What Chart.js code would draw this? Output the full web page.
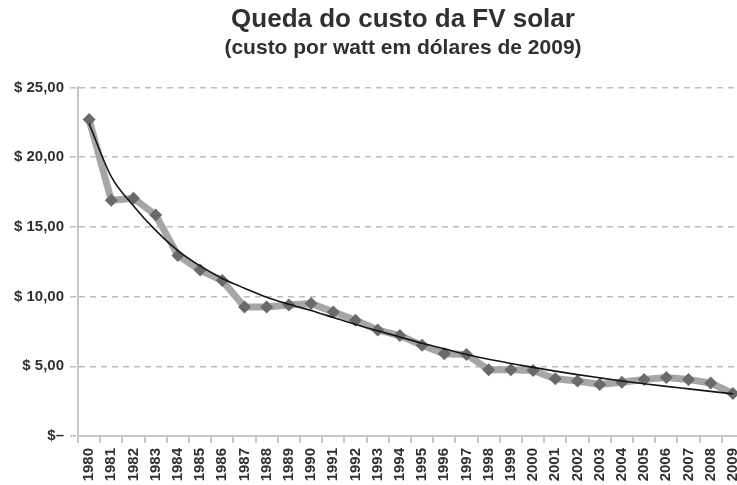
<!DOCTYPE html>
<html>
<head>
<meta charset="utf-8">
<script src="https://cdn.jsdelivr.net/npm/chart.js@4/dist/chart.umd.min.js"></script>
<style>
  html, body { margin: 0; padding: 0; background: #fff; overflow: hidden; width: 737px; height: 485px; }
  canvas { display: block; }
</style>
</head>
<body>
<canvas id="c" width="806" height="485"></canvas>
<script>
const categories = ["1980","1981","1982","1983","1984","1985","1986","1987","1988","1989",
  "1990","1991","1992","1993","1994","1995","1996","1997","1998","1999",
  "2000","2001","2002","2003","2004","2005","2006","2007","2008","2009"];
const custo = [22.7, 16.9, 17.05, 15.85, 12.95, 11.9, 11.15, 9.25, 9.25, 9.4,
  9.5, 8.9, 8.3, 7.6, 7.2, 6.5, 5.9, 5.85, 4.75, 4.75,
  4.7, 4.1, 3.95, 3.7, 3.85, 4.05, 4.2, 4.05, 3.8, 3.05];
const tendencia = [22.4, 18.6, 16.5, 14.75, 13.3, 12.2, 11.3, 10.6, 9.95, 9.45,
  9.0, 8.5, 8.0, 7.55, 7.1, 6.65, 6.25, 5.85, 5.5, 5.2,
  4.92, 4.65, 4.4, 4.17, 3.95, 3.75, 3.56, 3.38, 3.2, 3.02];
const yTicks = [0, 5, 10, 15, 20, 25];
const titleText = "Queda do custo da FV solar";
const subtitleText = "(custo por watt em dólares de 2009)";

function fmt(v) {
  if (v === 0) return "$\u2013";
  return "$ " + v.toFixed(2).replace(".", ",");
}

const FONT = "'Liberation Sans', Arial, sans-serif";
const TXT = "#303030";

new Chart(document.getElementById("c"), {
  type: "line",
  data: {
    labels: categories,
    datasets: [
      {
        label: "Tendência",
        data: tendencia,
        borderColor: "#151515",
        borderWidth: 1.6,
        pointRadius: 0,
        cubicInterpolationMode: "monotone",
        fill: false
      },
      {
        label: "Custo",
        data: custo,
        borderColor: "#a6a6a6",
        borderWidth: 7,
        tension: 0,
        pointStyle: "rectRot",
        pointRadius: 6.5,
        pointBackgroundColor: "#6a6a6a",
        pointBorderWidth: 0,
        fill: false
      }
    ]
  },
  options: {
    responsive: false,
    devicePixelRatio: 1,
    animation: false,
    layout: { padding: 0 },
    plugins: {
      legend: { display: false },
      tooltip: { enabled: false },
      title: {
        display: true,
        text: titleText,
        color: TXT,
        font: { family: FONT, size: 26, weight: "bold" },
        padding: { top: 4, bottom: 0 }
      },
      subtitle: {
        display: true,
        text: subtitleText,
        color: TXT,
        font: { family: FONT, size: 21, weight: "bold" },
        padding: { top: 0, bottom: 27 }
      }
    },
    scales: {
      x: {
        type: "category",
        offset: true,
        grid: {
          display: true,
          offset: true,
          drawOnChartArea: false,
          drawTicks: true,
          tickLength: 7,
          color: "#c6c6c6",
          lineWidth: 2
        },
        border: { display: true, color: "#c6c6c6", width: 2 },
        ticks: {
          autoSkip: false,
          minRotation: 90,
          maxRotation: 90,
          padding: 5,
          color: TXT,
          font: { family: FONT, size: 15, weight: "bold" }
        },
        afterFit(scale) { scale.height = 49; }
      },
      y: {
        min: 0,
        max: 25,
        afterBuildTicks(scale) { scale.ticks = yTicks.map(v => ({ value: v })); },
        grid: {
          color: "#bdbdbd",
          lineWidth: 1.5,
          tickLength: 8,
          drawTicks: true,
          tickBorderDash: [6, 5]
        },
        border: { display: true, color: "#c6c6c6", width: 2, dash: [6, 5] },
        ticks: {
          padding: 6,
          color: TXT,
          font: { family: FONT, size: 15, weight: "bold" },
          callback: (v) => fmt(v)
        },
        afterFit(scale) { scale.width = 78; }
      },
      yRight: {
        position: "right",
        min: 0,
        max: 25,
        display: true,
        grid: { display: false, drawTicks: false },
        border: { display: false },
        ticks: { display: false },
        afterFit(scale) { scale.width = 62; }
      }
    }
  }
});
</script>
</body>
</html>
